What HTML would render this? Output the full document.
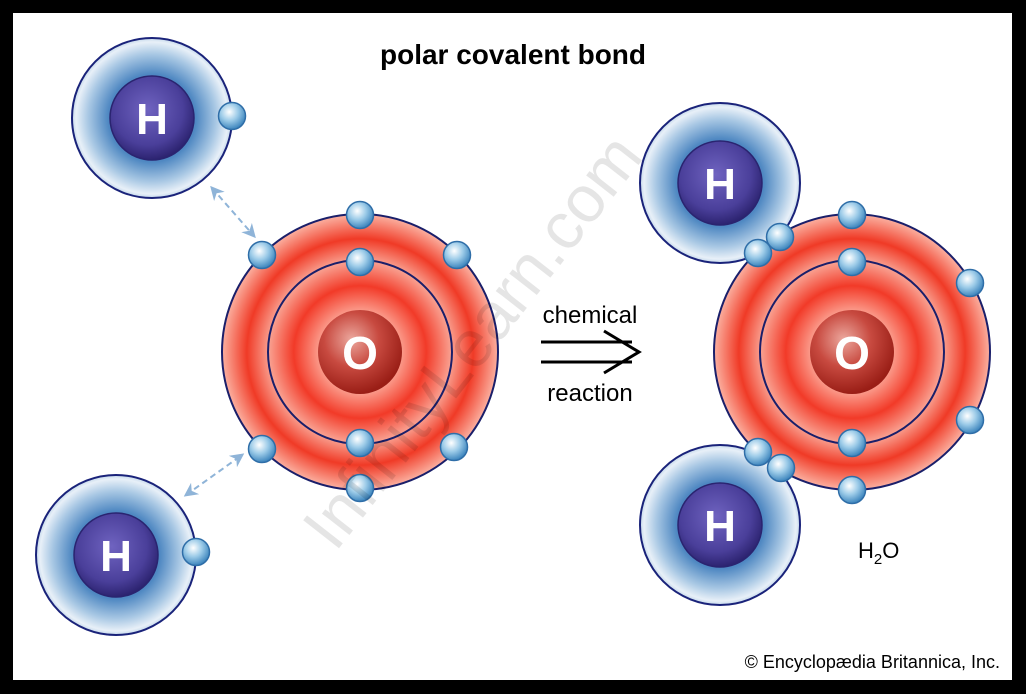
<!DOCTYPE html>
<html><head><meta charset="utf-8"><style>
html,body{margin:0;padding:0;background:#000;}
svg{display:block;}
</style></head><body>
<svg width="1026" height="694" viewBox="0 0 1026 694" xmlns="http://www.w3.org/2000/svg" font-family="Liberation Sans, Arial, sans-serif">
<defs>
<radialGradient id="hg" cx="50%" cy="50%" r="50%">
<stop offset="0" stop-color="#2f5fa8"/>
<stop offset="0.55" stop-color="#4f88c2"/>
<stop offset="0.8" stop-color="#a9c8e4"/>
<stop offset="0.95" stop-color="#e8f0f8"/>
<stop offset="1" stop-color="#c5d9ec"/>
</radialGradient>
<radialGradient id="hn" cx="45%" cy="40%" r="60%">
<stop offset="0" stop-color="#6f63c0"/>
<stop offset="0.7" stop-color="#4a3f9a"/>
<stop offset="1" stop-color="#2c2370"/>
</radialGradient>
<radialGradient id="og" cx="50%" cy="50%" r="50%">
<stop offset="0" stop-color="#f03020"/>
<stop offset="0.3" stop-color="#fb9a8a"/>
<stop offset="0.48" stop-color="#f23a28"/>
<stop offset="0.66" stop-color="#f9a090"/>
<stop offset="0.82" stop-color="#f03a26"/>
<stop offset="1" stop-color="#fbb0a0"/>
</radialGradient>
<radialGradient id="on" cx="40%" cy="35%" r="65%">
<stop offset="0" stop-color="#eca89e"/>
<stop offset="0.5" stop-color="#c84a40"/>
<stop offset="1" stop-color="#9a1e16"/>
</radialGradient>
<radialGradient id="el" cx="40%" cy="35%" r="65%">
<stop offset="0" stop-color="#ffffff"/>
<stop offset="0.5" stop-color="#9ccbe8"/>
<stop offset="1" stop-color="#3d85bd"/>
</radialGradient>
<g id="e"><circle r="13.5" fill="url(#el)" stroke="#2f6ea8" stroke-width="1.5"/></g>
<g id="H">
<circle r="80" fill="url(#hg)" stroke="#1a237a" stroke-width="2"/>
<circle r="42" fill="url(#hn)" stroke="#2a2470" stroke-width="1.5"/>
<text y="16" text-anchor="middle" font-size="44" font-weight="bold" fill="#fff">H</text>
</g>
<g id="O">
<circle r="138" fill="url(#og)" stroke="#1a1f6a" stroke-width="2"/>
<circle r="92" fill="none" stroke="#1a1f6a" stroke-width="2"/>
<circle r="42" fill="url(#on)"/>
<text y="17" text-anchor="middle" font-size="46" font-weight="bold" fill="#fff">O</text>
</g>
<marker id="ah" viewBox="0 0 10 10" refX="8" refY="5" markerWidth="7" markerHeight="7" orient="auto-start-reverse"><path d="M0,0 L10,5 L0,10 L3,5z" fill="#8fb4d8"/></marker>
</defs>
<rect x="13" y="13" width="999" height="667" fill="#fff"/>
<text x="513" y="64" text-anchor="middle" font-size="28" font-weight="bold" fill="#000">polar covalent bond</text>

<line x1="212" y1="188" x2="254" y2="236" stroke="#8fb4d8" stroke-width="2" stroke-dasharray="6,4" marker-start="url(#ah)" marker-end="url(#ah)"/>
<line x1="186" y1="495" x2="242" y2="455" stroke="#8fb4d8" stroke-width="2" stroke-dasharray="6,4" marker-start="url(#ah)" marker-end="url(#ah)"/>
<use href="#H" x="152" y="118"/>
<use href="#e" x="232" y="116"/>
<use href="#H" x="116" y="555"/>
<use href="#e" x="196" y="552"/>
<use href="#O" x="360" y="352"/>
<use href="#e" x="360" y="215"/><use href="#e" x="262" y="255"/><use href="#e" x="457" y="255"/><use href="#e" x="360" y="262"/>
<use href="#e" x="262" y="449"/><use href="#e" x="360" y="443"/><use href="#e" x="454" y="447"/><use href="#e" x="360" y="488"/>

<text x="590" y="323" text-anchor="middle" font-size="24" fill="#000">chemical</text>
<line x1="541" y1="342" x2="632" y2="342" stroke="#000" stroke-width="3"/>
<line x1="541" y1="362" x2="632" y2="362" stroke="#000" stroke-width="3"/>
<polyline points="604,331 639,352 604,373" fill="none" stroke="#000" stroke-width="3"/>
<text x="590" y="401" text-anchor="middle" font-size="24" fill="#000">reaction</text>

<use href="#O" x="852" y="352"/>
<use href="#H" x="720" y="183"/>
<use href="#H" x="720" y="525"/>
<use href="#e" x="852" y="215"/><use href="#e" x="852" y="262"/><use href="#e" x="970" y="283"/><use href="#e" x="970" y="420"/>
<use href="#e" x="852" y="443"/><use href="#e" x="852" y="490"/>
<use href="#e" x="758" y="253"/><use href="#e" x="780" y="237"/><use href="#e" x="758" y="452"/><use href="#e" x="781" y="468"/>
<text x="858" y="558" font-size="22" fill="#000">H<tspan font-size="15" dy="6">2</tspan><tspan dy="-6">O</tspan></text>

<text x="490" y="355" text-anchor="middle" font-size="66" fill="#000" fill-opacity="0.1" transform="rotate(-52 490 355)">InfinityLearn.com</text>
<text x="1000" y="668" text-anchor="end" font-size="18" fill="#000">© Encyclopædia Britannica, Inc.</text>
</svg>
</body></html>
